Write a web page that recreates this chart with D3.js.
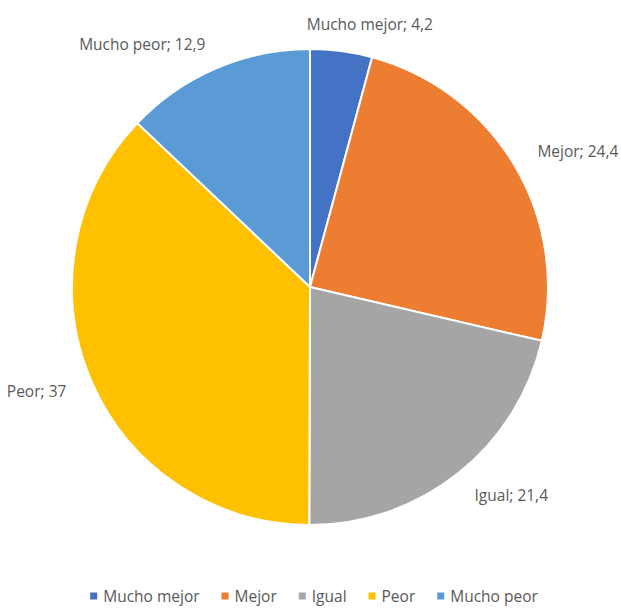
<!DOCTYPE html>
<html>
<head>
<meta charset="utf-8">
<script src="https://cdn.jsdelivr.net/npm/d3@7"></script>
<style>
  body { margin: 0; background: #fff; }
  svg text { font-family: "Open Sans", "DejaVu Sans", sans-serif; fill: #595959; }
</style>
</head>
<body>
<svg id="chart"></svg>
<script>
const categories = ["Mucho mejor", "Mejor", "Igual", "Peor", "Mucho peor"];
const values = [4.2, 24.4, 21.4, 37, 12.9];
const labels = ["4,2", "24,4", "21,4", "37", "12,9"];
const colors = ["#4472C4", "#ED7D31", "#A5A5A5", "#FFC000", "#5B9BD5"];

const width = 621, height = 608;
const center = { x: 310, y: 287 };
const radius = 238;
const labelRadius = 265;
const fontSize = 15.5;

const svg = d3.select("#chart").attr("width", width).attr("height", height);

const pie = d3.pie().sort(null).value(d => d.value);
const arc = d3.arc().innerRadius(0).outerRadius(radius);

const data = categories.map((c, i) => ({ name: c, value: values[i], label: labels[i], color: colors[i] }));
const arcs = pie(data);

const g = svg.append("g").attr("transform", `translate(${center.x},${center.y})`);

// slices
g.selectAll("path.slice")
  .data(arcs)
  .enter()
  .append("path")
  .attr("class", "slice")
  .attr("d", arc)
  .attr("fill", d => d.data.color)
  .attr("stroke", "#fff")
  .attr("stroke-width", 2);

// data labels, outside end
arcs.forEach(d => {
  const mid = (d.startAngle + d.endAngle) / 2;
  const px = labelRadius * Math.sin(mid);
  const py = -labelRadius * Math.cos(mid);
  const t = g.append("text")
    .attr("font-size", fontSize)
    .attr("dominant-baseline", "central")
    .attr("text-anchor", "middle")
    .text(`${d.data.name}; ${d.data.label}`);
  const w = t.node().getComputedTextLength();
  const f = Math.max(-1, Math.min(1, Math.sin(mid) * 3));
  t.attr("x", px + f * w / 2).attr("y", py);
});

// legend
const legendY = 596;
const legend = svg.append("g");
let x = 0;
data.forEach(d => {
  const item = legend.append("g");
  item.append("rect").attr("x", 0).attr("y", -3.5).attr("width", 7).attr("height", 7).attr("fill", d.color);
  const t = item.append("text")
    .attr("x", 13)
    .attr("y", 0)
    .attr("font-size", fontSize)
    .attr("dominant-baseline", "central")
    .text(d.name);
  const w = 13 + t.node().getComputedTextLength();
  item.attr("transform", `translate(${x},${legendY})`);
  x += w + 22;
});
const totalW = x - 22;
legend.attr("transform", `translate(${314 - totalW / 2},0)`);
</script>
</body>
</html>
